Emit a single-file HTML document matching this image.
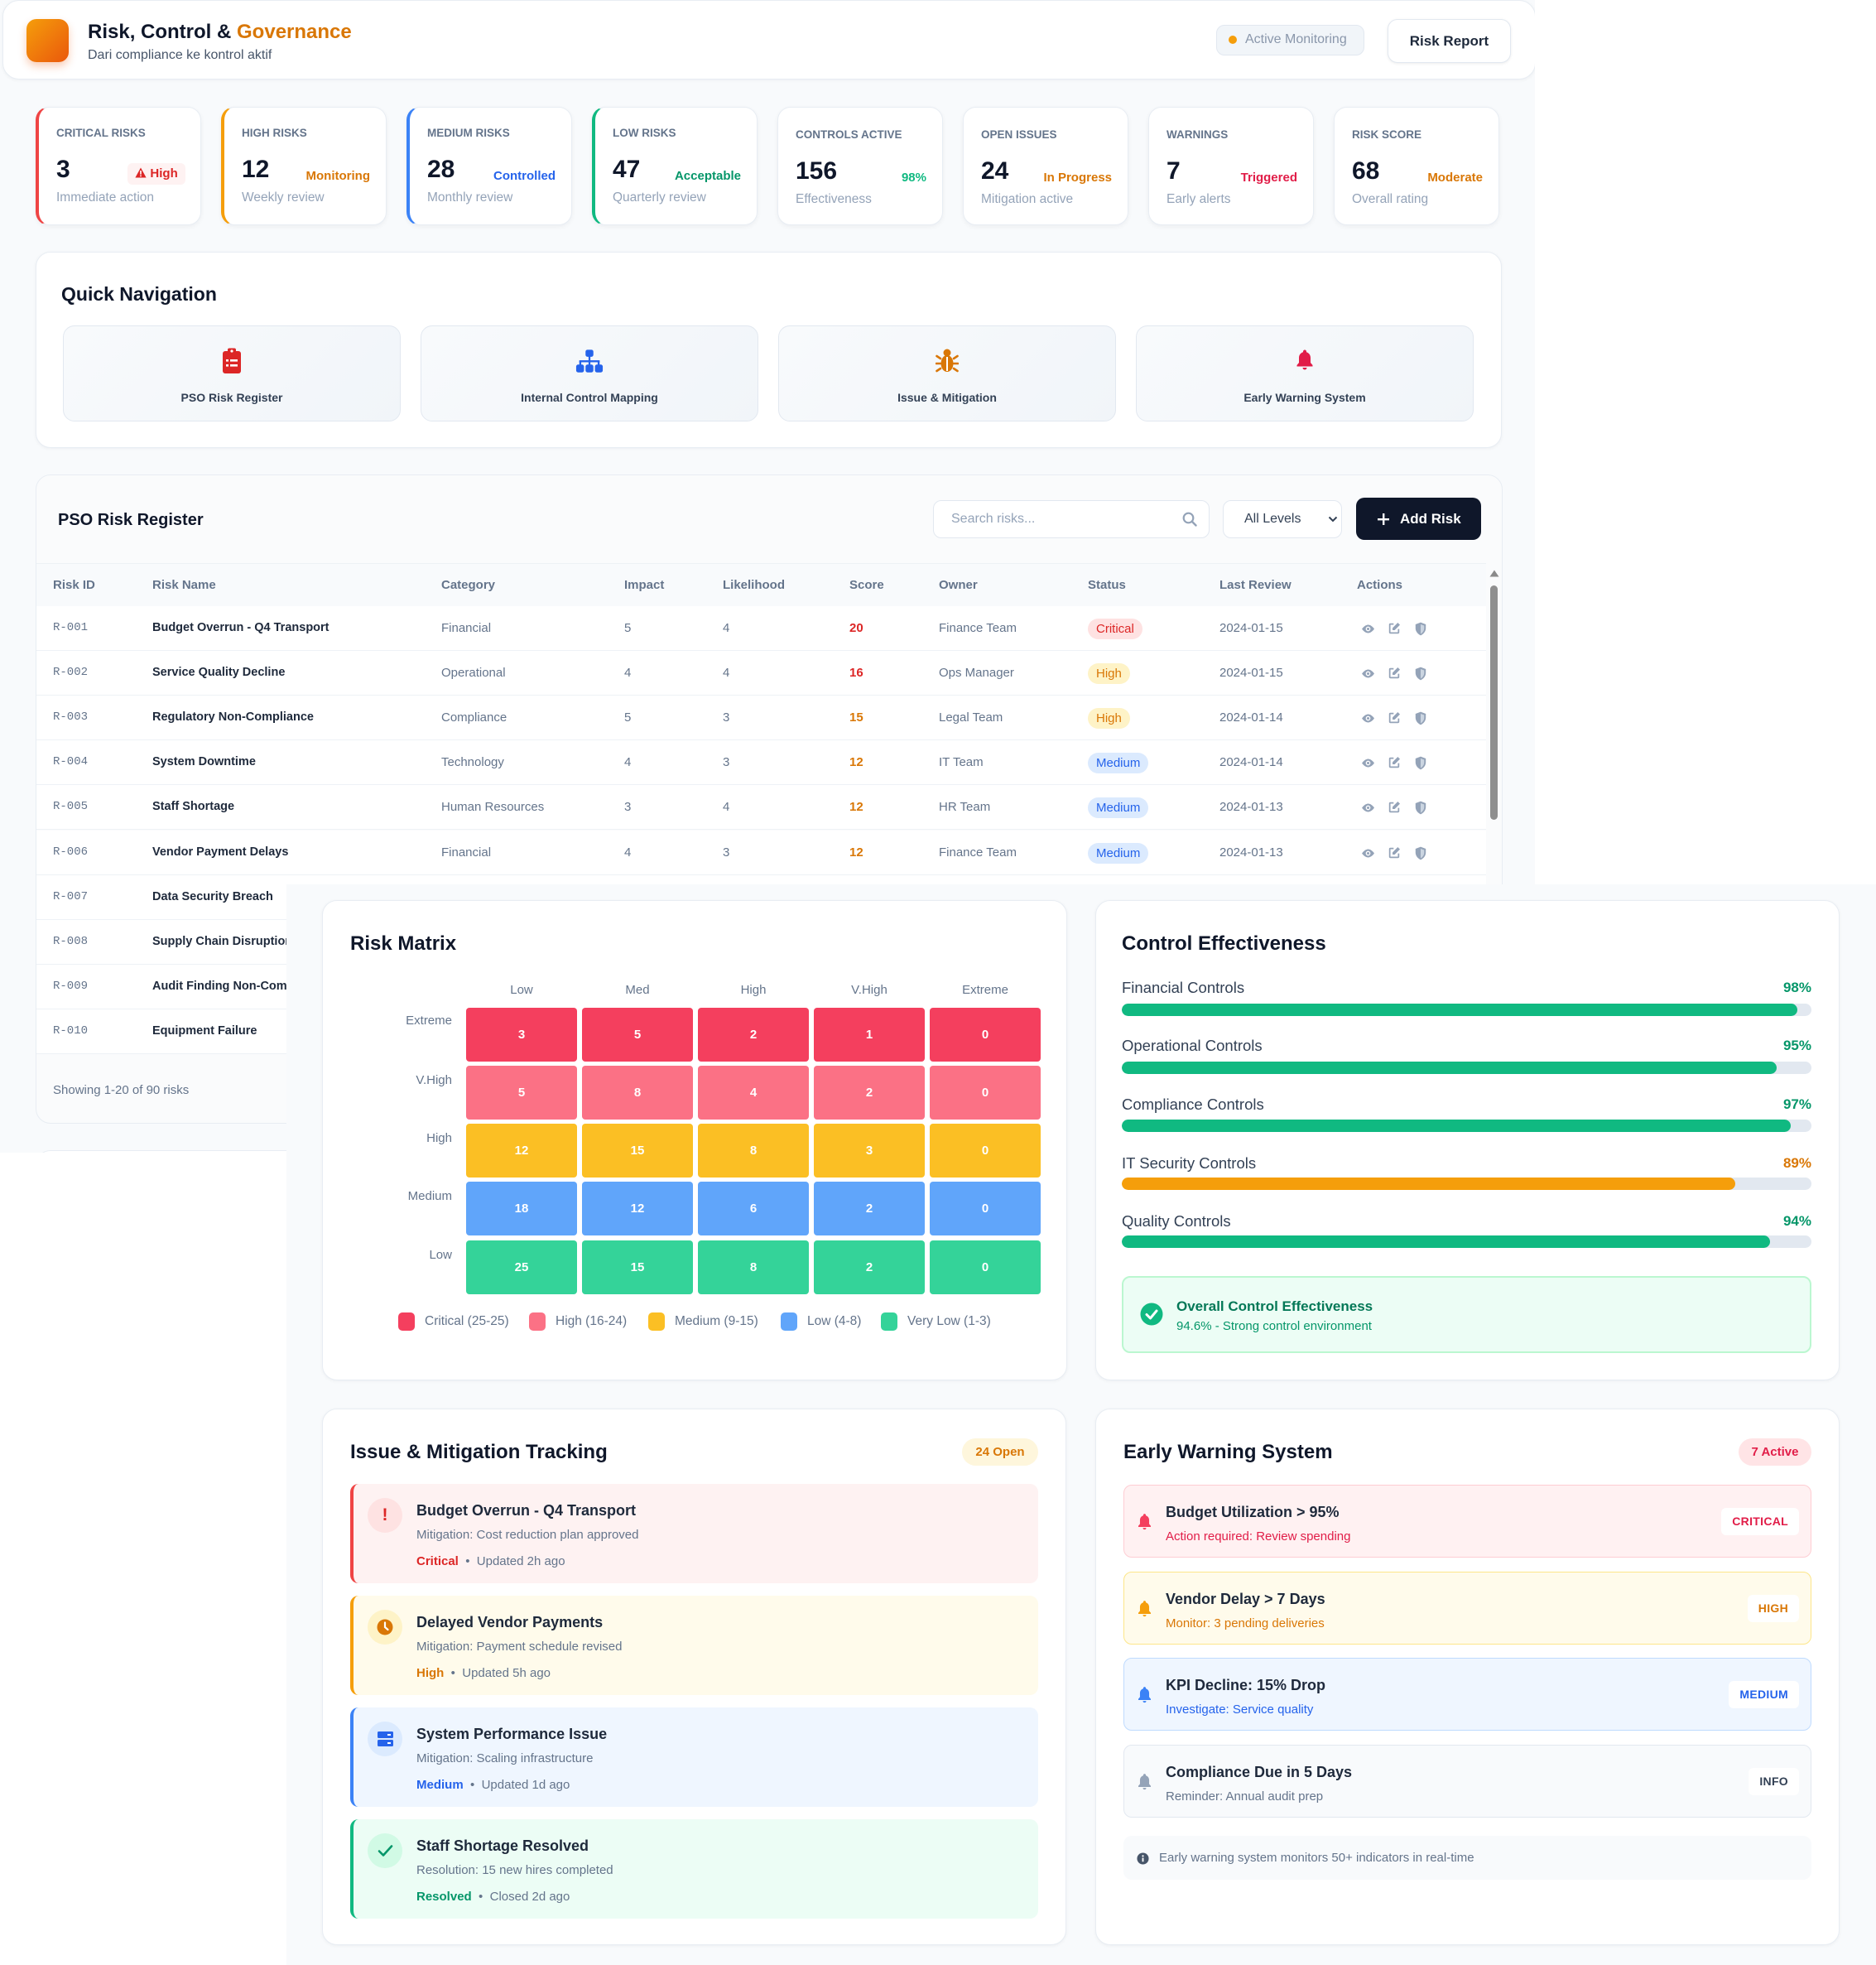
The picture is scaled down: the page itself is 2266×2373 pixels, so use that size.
<!DOCTYPE html>
<html><head><meta charset="utf-8">
<style>
*{box-sizing:border-box;margin:0;padding:0}
html,body{width:2266px;height:2373px;overflow:hidden;background:#fff;font-family:"Liberation Sans",Arial,sans-serif;color:#0f172a}
.a{position:absolute;white-space:nowrap}
#s1{position:absolute;left:0;top:0;width:1854px;height:1392px;background:#f8fafc;overflow:hidden}
#s2{position:absolute;left:346px;top:1068px;width:1920px;height:1305px;background:#f8fafc}
.card{position:absolute;background:#fff;border:1px solid #e8edf3;border-radius:18px;box-shadow:0 1px 4px rgba(15,23,42,.05)}
.stat{position:absolute;top:129px;width:200px;height:143px;background:#fff;border:1px solid #e8edf3;border-radius:16px;box-shadow:0 2px 6px rgba(15,23,42,.05)}
.sl{position:absolute;left:21px;top:22px;font-size:13.5px;font-weight:700;color:#64748b;line-height:18px;white-space:nowrap}
.sn{position:absolute;left:21px;top:57px;font-size:30px;font-weight:700;color:#0f172a;line-height:36px}
.sr{position:absolute;right:19px;top:73px;font-size:15px;font-weight:700;line-height:20px;white-space:nowrap}
.ss{position:absolute;left:21px;top:99px;font-size:15.5px;color:#94a3b8;line-height:20px;white-space:nowrap}
.nav{position:absolute;top:393px;width:408px;height:116px;border:1px solid #e2e8f0;border-radius:14px;background:linear-gradient(135deg,#f8fafc,#f1f5f9)}
.nav svg{position:absolute;left:50%;transform:translateX(-50%)}
.nav .nl{position:absolute;left:0;right:0;top:76px;text-align:center;font-size:14px;font-weight:700;color:#334155;line-height:20px}
.th{position:absolute;top:0;line-height:52px;font-size:15px;font-weight:700;color:#64748b}
.row{position:absolute;left:44px;width:1751px;height:54px;background:#fff;border-bottom:1px solid #eef2f6}
.row .c{position:absolute;top:0;line-height:53px;font-size:15px;color:#64748b;white-space:nowrap}
.row .id{font-family:"Liberation Mono",monospace;font-size:14px}
.row .nm{font-weight:700;color:#1e293b;font-size:14.5px}
.row .sc{font-weight:700}
.bd{position:absolute;left:1270px;top:15px;height:25px;line-height:25px;padding:0 10px;border-radius:13px;font-size:15px}
.ic{position:absolute;top:19px}
.ttl{position:absolute;font-size:24px;font-weight:700;color:#0f172a;line-height:30px;white-space:nowrap}
.cell{position:absolute;width:134px;height:65px;border-radius:4px;color:#fff;font-weight:700;font-size:15px;line-height:65px;text-align:center}
.ch{position:absolute;top:1186px;width:134px;text-align:center;font-size:15px;color:#64748b;line-height:20px}
.rl{position:absolute;right:1720px;font-size:15px;color:#64748b;line-height:20px;text-align:right}
.lg{position:absolute;top:1585px;width:20px;height:22px;border-radius:5px}
.lt{position:absolute;top:1586px;font-size:15.5px;color:#64748b;line-height:20px;white-space:nowrap}
.cl{position:absolute;left:1355px;font-size:18.5px;color:#334155;line-height:24px}
.cp{position:absolute;right:78px;font-size:17px;font-weight:700;line-height:24px}
.bar{position:absolute;left:1355px;width:833px;height:15px;border-radius:8px;background:#e2e8f0;overflow:hidden}
.bar div{height:100%;border-radius:8px}
.it{position:absolute;left:423px;width:831px;height:120px;border-radius:10px;border-left:4px solid}
.it .ci{position:absolute;left:17px;top:17px;width:42px;height:42px;border-radius:50%}
.it .t1{position:absolute;left:76px;top:20px;font-size:18px;font-weight:700;color:#1e293b;line-height:24px;white-space:nowrap}
.it .t2{position:absolute;left:76px;top:52px;font-size:15px;color:#64748b;line-height:20px;white-space:nowrap}
.it .t3{position:absolute;left:76px;top:84px;font-size:15px;color:#64748b;line-height:20px;white-space:nowrap}
.ew{position:absolute;left:1357px;width:831px;height:88px;border-radius:10px;border:1.5px solid}
.ew svg{position:absolute;left:15px;top:32px}
.ew .t1{position:absolute;left:50px;top:20px;font-size:18px;font-weight:700;color:#1e293b;line-height:24px;white-space:nowrap}
.ew .t2{position:absolute;left:50px;top:52px;font-size:15px;line-height:20px;white-space:nowrap}
.ew .b{position:absolute;right:14px;top:27px;height:33px;line-height:33px;padding:0 13px;background:#fff;border-radius:6px;font-size:14px;font-weight:700;letter-spacing:.3px}
</style></head><body>

<div id="s1">
  <!-- header -->
  <div class="card" style="left:3px;top:0;width:1852px;height:96px;border-radius:20px"></div>
  <div class="a" style="left:32px;top:23px;width:51px;height:52px;border-radius:12px;background:linear-gradient(135deg,#f59e0b,#ea580c);box-shadow:0 5px 10px rgba(234,88,12,.3)"></div>
  <div class="a" style="left:106px;top:24px;font-size:24px;font-weight:700;line-height:30px;color:#0f172a">Risk, Control &amp; <span style="color:#d97706">Governance</span></div>
  <div class="a" style="left:106px;top:57px;font-size:16px;line-height:20px;color:#475569">Dari compliance ke kontrol aktif</div>
  <div class="a" style="left:1469px;top:30px;width:179px;height:37px;border-radius:10px;background:#f1f5f9;border:1px solid #e2e8f0"></div>
  <div class="a" style="left:1484px;top:43px;width:10px;height:10px;border-radius:50%;background:#f59e0b"></div>
  <div class="a" style="left:1504px;top:38px;font-size:16px;line-height:20px;color:#8a97ab">Active Monitoring</div>
  <div class="a" style="left:1676px;top:23px;width:149px;height:53px;border-radius:12px;background:#fff;border:1px solid #e2e8f0;box-shadow:0 1px 3px rgba(15,23,42,.08);text-align:center;line-height:51px;font-size:17px;font-weight:700;color:#1e293b">Risk Report</div>

  <!-- stats -->
  <div class="stat" style="left:43px;border-left:4px solid #ef4444">
    <div class="sl">CRITICAL RISKS</div><div class="sn">3</div>
    <div class="a" style="right:18px;top:67px;height:26px;width:70px;border-radius:6px;background:#fef2f2;color:#dc2626;font-size:15px;font-weight:700;line-height:26px;text-align:center"><svg width="14" height="13" viewBox="0 0 14 13" style="vertical-align:-1px"><path d="M7 0.5L13.6 12.5H0.4Z" fill="#dc2626"/><rect x="6.2" y="4" width="1.6" height="4.6" fill="#fff"/><rect x="6.2" y="9.6" width="1.6" height="1.6" fill="#fff"/></svg> High</div>
    <div class="ss">Immediate action</div>
  </div>
  <div class="stat" style="left:267px;border-left:4px solid #f59e0b">
    <div class="sl">HIGH RISKS</div><div class="sn">12</div><div class="sr" style="color:#d97706">Monitoring</div><div class="ss">Weekly review</div>
  </div>
  <div class="stat" style="left:491px;border-left:4px solid #3b82f6">
    <div class="sl">MEDIUM RISKS</div><div class="sn">28</div><div class="sr" style="color:#2563eb">Controlled</div><div class="ss">Monthly review</div>
  </div>
  <div class="stat" style="left:715px;border-left:4px solid #10b981">
    <div class="sl">LOW RISKS</div><div class="sn">47</div><div class="sr" style="color:#059669">Acceptable</div><div class="ss">Quarterly review</div>
  </div>
  <div class="stat" style="left:939px">
    <div class="sl" style="top:24px">CONTROLS ACTIVE</div><div class="sn" style="top:59px">156</div><div class="sr" style="color:#10b981;top:75px">98%</div><div class="ss" style="top:101px">Effectiveness</div>
  </div>
  <div class="stat" style="left:1163px">
    <div class="sl" style="top:24px">OPEN ISSUES</div><div class="sn" style="top:59px">24</div><div class="sr" style="color:#d97706;top:75px">In Progress</div><div class="ss" style="top:101px">Mitigation active</div>
  </div>
  <div class="stat" style="left:1387px">
    <div class="sl" style="top:24px">WARNINGS</div><div class="sn" style="top:59px">7</div><div class="sr" style="color:#e11d48;top:75px">Triggered</div><div class="ss" style="top:101px">Early alerts</div>
  </div>
  <div class="stat" style="left:1611px">
    <div class="sl" style="top:24px">RISK SCORE</div><div class="sn" style="top:59px">68</div><div class="sr" style="color:#d97706;top:75px">Moderate</div><div class="ss" style="top:101px">Overall rating</div>
  </div>

  <!-- quick nav -->
  <div class="card" style="left:43px;top:304px;width:1771px;height:237px"></div>
  <div class="a" style="left:74px;top:340px;font-size:23px;font-weight:700;line-height:30px">Quick Navigation</div>
  <div class="nav" style="left:76px">
    <svg style="top:26px" width="24" height="32" viewBox="0 0 24 32"><rect x="1" y="4" width="22" height="27" rx="3" fill="#dc2626"/><rect x="7" y="0.5" width="10" height="7" rx="2" fill="#dc2626"/><circle cx="12" cy="4" r="1.6" fill="#fff"/><rect x="5" y="14" width="3" height="2.6" fill="#fff"/><rect x="10" y="14" width="9" height="2.6" fill="#fff"/><rect x="5" y="20" width="3" height="2.6" fill="#fff"/><rect x="10" y="20" width="9" height="2.6" fill="#fff"/></svg>
    <div class="nl">PSO Risk Register</div>
  </div>
  <div class="nav" style="left:508px">
    <svg style="top:28px" width="34" height="29" viewBox="0 0 36 30"><rect x="13" y="0" width="10" height="9" rx="2.5" fill="#2563eb"/><rect x="16.8" y="8" width="2.4" height="7" fill="#2563eb"/><rect x="5" y="13.5" width="26" height="2.5" fill="#2563eb"/><rect x="5" y="14" width="2.5" height="6" fill="#2563eb"/><rect x="16.8" y="14" width="2.4" height="6" fill="#2563eb"/><rect x="28.5" y="14" width="2.5" height="6" fill="#2563eb"/><rect x="1" y="19" width="10" height="10" rx="2.5" fill="#2563eb"/><rect x="13" y="19" width="10" height="10" rx="2.5" fill="#2563eb"/><rect x="25" y="19" width="10" height="10" rx="2.5" fill="#2563eb"/></svg>
    <div class="nl">Internal Control Mapping</div>
  </div>
  <div class="nav" style="left:940px">
    <svg style="top:27px" width="28" height="30" viewBox="0 0 28 30"><circle cx="14" cy="5" r="4.5" fill="#d97706"/><ellipse cx="14" cy="18" rx="7.5" ry="10" fill="#d97706"/><rect x="13" y="10" width="2" height="17" fill="#fff"/><g stroke="#d97706" stroke-width="2.6" stroke-linecap="round"><line x1="6" y1="12" x2="1.5" y2="9"/><line x1="22" y1="12" x2="26.5" y2="9"/><line x1="6" y1="18" x2="1" y2="18"/><line x1="22" y1="18" x2="27" y2="18"/><line x1="6" y1="24" x2="1.5" y2="27"/><line x1="22" y1="24" x2="26.5" y2="27"/></g></svg>
    <div class="nl">Issue &amp; Mitigation</div>
  </div>
  <div class="nav" style="left:1372px">
    <svg style="top:26px" width="24" height="30" viewBox="0 0 24 28"><path d="M12 1.5c-1.1 0-2 .9-2 2v.7C6.9 5.1 5 7.8 5 11v6l-2.5 3v1.5h19V20L19 17v-6c0-3.2-1.9-5.9-5-6.8v-.7c0-1.1-.9-2-2-2z" fill="#e11d48"/><path d="M9.5 23h5a2.5 2.5 0 0 1-5 0z" fill="#e11d48"/></svg>
    <div class="nl">Early Warning System</div>
  </div>

  <!-- register -->
  <div class="card" style="left:43px;top:573px;width:1772px;height:784px;background:#fafbfc;box-shadow:none"></div>
  <div class="a" style="left:70px;top:615px;font-size:20px;font-weight:700;line-height:26px">PSO Risk Register</div>
  <div class="a" style="left:1127px;top:604px;width:334px;height:46px;background:#fff;border:1px solid #e2e8f0;border-radius:10px"></div>
  <div class="a" style="left:1149px;top:617px;font-size:16px;line-height:20px;color:#94a3b8">Search risks...</div>
  <svg class="a" style="left:1428px;top:618px" width="18" height="18" viewBox="0 0 18 18"><circle cx="7.5" cy="7.5" r="5.8" fill="none" stroke="#94a3b8" stroke-width="2.2"/><line x1="12" y1="12" x2="16.5" y2="16.5" stroke="#94a3b8" stroke-width="2.4" stroke-linecap="round"/></svg>
  <div class="a" style="left:1477px;top:604px;width:144px;height:46px;background:#fff;border:1px solid #e2e8f0;border-radius:10px"></div>
  <div class="a" style="left:1503px;top:617px;font-size:16px;line-height:20px;color:#334155">All Levels</div>
  <svg class="a" style="left:1604px;top:623px" width="12" height="8" viewBox="0 0 12 8"><polyline points="1.5,1.5 6,6 10.5,1.5" fill="none" stroke="#334155" stroke-width="2"/></svg>
  <div class="a" style="left:1638px;top:601px;width:151px;height:51px;background:#0f172a;border-radius:10px"></div>
  <svg class="a" style="left:1663px;top:619px" width="16" height="16" viewBox="0 0 16 16"><rect x="7" y="1" width="2.4" height="14" fill="#fff"/><rect x="1" y="7" width="14" height="2.4" fill="#fff"/></svg>
  <div class="a" style="left:1691px;top:616px;font-size:17px;font-weight:700;line-height:22px;color:#fff">Add Risk</div>

  <div class="a" style="left:44px;top:680px;width:1751px;height:52px;background:#f8fafc;border-top:1px solid #edf1f5">
    <div class="th" style="left:20px">Risk ID</div><div class="th" style="left:140px">Risk Name</div><div class="th" style="left:489px">Category</div><div class="th" style="left:710px">Impact</div><div class="th" style="left:829px">Likelihood</div><div class="th" style="left:982px">Score</div><div class="th" style="left:1090px">Owner</div><div class="th" style="left:1270px">Status</div><div class="th" style="left:1429px">Last Review</div><div class="th" style="left:1595px">Actions</div>
  </div>

  <div class="row" style="top:732px"><div class="c id" style="left:20px">R-001</div><div class="c nm" style="left:140px">Budget Overrun - Q4 Transport</div><div class="c" style="left:489px">Financial</div><div class="c" style="left:710px">5</div><div class="c" style="left:829px">4</div><div class="c sc" style="left:982px;color:#dc2626">20</div><div class="c" style="left:1090px">Finance Team</div><div class="bd" style="background:#fee2e2;color:#dc2626">Critical</div><div class="c" style="left:1429px">2024-01-15</div>
    <svg class="ic" style="left:1600px" width="17" height="17" viewBox="0 0 24 24"><path d="M12 5C6 5 1.5 12 1.5 12S6 19 12 19s10.5-7 10.5-7S18 5 12 5z" fill="#94a3b8"/><circle cx="12" cy="12" r="4" fill="#fff"/><circle cx="12" cy="12" r="2.2" fill="#94a3b8"/></svg><svg class="ic" style="left:1632px" width="16" height="16" viewBox="0 0 24 24"><path d="M11 4H5a1 1 0 0 0-1 1v14a1 1 0 0 0 1 1h14a1 1 0 0 0 1-1v-6" fill="none" stroke="#94a3b8" stroke-width="2.6"/><path d="M18.5 1.5l4 4-9.5 9.5H9v-4z" fill="#94a3b8"/></svg><svg class="ic" style="left:1664px" width="16" height="17" viewBox="0 0 24 26"><path d="M12 1l9.5 3.5v7c0 6-4 11-9.5 13.5C6.5 22.5 2.5 17.5 2.5 11.5v-7z" fill="#94a3b8"/><path d="M12 4.5v17.5c4-2 6.5-6 6.5-10.5V6.8z" fill="#cbd5e1"/></svg></div>
  <div class="row" style="top:786px"><div class="c id" style="left:20px">R-002</div><div class="c nm" style="left:140px">Service Quality Decline</div><div class="c" style="left:489px">Operational</div><div class="c" style="left:710px">4</div><div class="c" style="left:829px">4</div><div class="c sc" style="left:982px;color:#dc2626">16</div><div class="c" style="left:1090px">Ops Manager</div><div class="bd" style="background:#fef3c7;color:#d97706">High</div><div class="c" style="left:1429px">2024-01-15</div>
    <svg class="ic" style="left:1600px" width="17" height="17" viewBox="0 0 24 24"><path d="M12 5C6 5 1.5 12 1.5 12S6 19 12 19s10.5-7 10.5-7S18 5 12 5z" fill="#94a3b8"/><circle cx="12" cy="12" r="4" fill="#fff"/><circle cx="12" cy="12" r="2.2" fill="#94a3b8"/></svg><svg class="ic" style="left:1632px" width="16" height="16" viewBox="0 0 24 24"><path d="M11 4H5a1 1 0 0 0-1 1v14a1 1 0 0 0 1 1h14a1 1 0 0 0 1-1v-6" fill="none" stroke="#94a3b8" stroke-width="2.6"/><path d="M18.5 1.5l4 4-9.5 9.5H9v-4z" fill="#94a3b8"/></svg><svg class="ic" style="left:1664px" width="16" height="17" viewBox="0 0 24 26"><path d="M12 1l9.5 3.5v7c0 6-4 11-9.5 13.5C6.5 22.5 2.5 17.5 2.5 11.5v-7z" fill="#94a3b8"/><path d="M12 4.5v17.5c4-2 6.5-6 6.5-10.5V6.8z" fill="#cbd5e1"/></svg></div>
  <div class="row" style="top:840px"><div class="c id" style="left:20px">R-003</div><div class="c nm" style="left:140px">Regulatory Non-Compliance</div><div class="c" style="left:489px">Compliance</div><div class="c" style="left:710px">5</div><div class="c" style="left:829px">3</div><div class="c sc" style="left:982px;color:#d97706">15</div><div class="c" style="left:1090px">Legal Team</div><div class="bd" style="background:#fef3c7;color:#d97706">High</div><div class="c" style="left:1429px">2024-01-14</div>
    <svg class="ic" style="left:1600px" width="17" height="17" viewBox="0 0 24 24"><path d="M12 5C6 5 1.5 12 1.5 12S6 19 12 19s10.5-7 10.5-7S18 5 12 5z" fill="#94a3b8"/><circle cx="12" cy="12" r="4" fill="#fff"/><circle cx="12" cy="12" r="2.2" fill="#94a3b8"/></svg><svg class="ic" style="left:1632px" width="16" height="16" viewBox="0 0 24 24"><path d="M11 4H5a1 1 0 0 0-1 1v14a1 1 0 0 0 1 1h14a1 1 0 0 0 1-1v-6" fill="none" stroke="#94a3b8" stroke-width="2.6"/><path d="M18.5 1.5l4 4-9.5 9.5H9v-4z" fill="#94a3b8"/></svg><svg class="ic" style="left:1664px" width="16" height="17" viewBox="0 0 24 26"><path d="M12 1l9.5 3.5v7c0 6-4 11-9.5 13.5C6.5 22.5 2.5 17.5 2.5 11.5v-7z" fill="#94a3b8"/><path d="M12 4.5v17.5c4-2 6.5-6 6.5-10.5V6.8z" fill="#cbd5e1"/></svg></div>
  <div class="row" style="top:894px"><div class="c id" style="left:20px">R-004</div><div class="c nm" style="left:140px">System Downtime</div><div class="c" style="left:489px">Technology</div><div class="c" style="left:710px">4</div><div class="c" style="left:829px">3</div><div class="c sc" style="left:982px;color:#d97706">12</div><div class="c" style="left:1090px">IT Team</div><div class="bd" style="background:#dbeafe;color:#2563eb">Medium</div><div class="c" style="left:1429px">2024-01-14</div>
    <svg class="ic" style="left:1600px" width="17" height="17" viewBox="0 0 24 24"><path d="M12 5C6 5 1.5 12 1.5 12S6 19 12 19s10.5-7 10.5-7S18 5 12 5z" fill="#94a3b8"/><circle cx="12" cy="12" r="4" fill="#fff"/><circle cx="12" cy="12" r="2.2" fill="#94a3b8"/></svg><svg class="ic" style="left:1632px" width="16" height="16" viewBox="0 0 24 24"><path d="M11 4H5a1 1 0 0 0-1 1v14a1 1 0 0 0 1 1h14a1 1 0 0 0 1-1v-6" fill="none" stroke="#94a3b8" stroke-width="2.6"/><path d="M18.5 1.5l4 4-9.5 9.5H9v-4z" fill="#94a3b8"/></svg><svg class="ic" style="left:1664px" width="16" height="17" viewBox="0 0 24 26"><path d="M12 1l9.5 3.5v7c0 6-4 11-9.5 13.5C6.5 22.5 2.5 17.5 2.5 11.5v-7z" fill="#94a3b8"/><path d="M12 4.5v17.5c4-2 6.5-6 6.5-10.5V6.8z" fill="#cbd5e1"/></svg></div>
  <div class="row" style="top:948px"><div class="c id" style="left:20px">R-005</div><div class="c nm" style="left:140px">Staff Shortage</div><div class="c" style="left:489px">Human Resources</div><div class="c" style="left:710px">3</div><div class="c" style="left:829px">4</div><div class="c sc" style="left:982px;color:#d97706">12</div><div class="c" style="left:1090px">HR Team</div><div class="bd" style="background:#dbeafe;color:#2563eb">Medium</div><div class="c" style="left:1429px">2024-01-13</div>
    <svg class="ic" style="left:1600px" width="17" height="17" viewBox="0 0 24 24"><path d="M12 5C6 5 1.5 12 1.5 12S6 19 12 19s10.5-7 10.5-7S18 5 12 5z" fill="#94a3b8"/><circle cx="12" cy="12" r="4" fill="#fff"/><circle cx="12" cy="12" r="2.2" fill="#94a3b8"/></svg><svg class="ic" style="left:1632px" width="16" height="16" viewBox="0 0 24 24"><path d="M11 4H5a1 1 0 0 0-1 1v14a1 1 0 0 0 1 1h14a1 1 0 0 0 1-1v-6" fill="none" stroke="#94a3b8" stroke-width="2.6"/><path d="M18.5 1.5l4 4-9.5 9.5H9v-4z" fill="#94a3b8"/></svg><svg class="ic" style="left:1664px" width="16" height="17" viewBox="0 0 24 26"><path d="M12 1l9.5 3.5v7c0 6-4 11-9.5 13.5C6.5 22.5 2.5 17.5 2.5 11.5v-7z" fill="#94a3b8"/><path d="M12 4.5v17.5c4-2 6.5-6 6.5-10.5V6.8z" fill="#cbd5e1"/></svg></div>
  <div class="row" style="top:1003px"><div class="c id" style="left:20px">R-006</div><div class="c nm" style="left:140px">Vendor Payment Delays</div><div class="c" style="left:489px">Financial</div><div class="c" style="left:710px">4</div><div class="c" style="left:829px">3</div><div class="c sc" style="left:982px;color:#d97706">12</div><div class="c" style="left:1090px">Finance Team</div><div class="bd" style="background:#dbeafe;color:#2563eb">Medium</div><div class="c" style="left:1429px">2024-01-13</div>
    <svg class="ic" style="left:1600px" width="17" height="17" viewBox="0 0 24 24"><path d="M12 5C6 5 1.5 12 1.5 12S6 19 12 19s10.5-7 10.5-7S18 5 12 5z" fill="#94a3b8"/><circle cx="12" cy="12" r="4" fill="#fff"/><circle cx="12" cy="12" r="2.2" fill="#94a3b8"/></svg><svg class="ic" style="left:1632px" width="16" height="16" viewBox="0 0 24 24"><path d="M11 4H5a1 1 0 0 0-1 1v14a1 1 0 0 0 1 1h14a1 1 0 0 0 1-1v-6" fill="none" stroke="#94a3b8" stroke-width="2.6"/><path d="M18.5 1.5l4 4-9.5 9.5H9v-4z" fill="#94a3b8"/></svg><svg class="ic" style="left:1664px" width="16" height="17" viewBox="0 0 24 26"><path d="M12 1l9.5 3.5v7c0 6-4 11-9.5 13.5C6.5 22.5 2.5 17.5 2.5 11.5v-7z" fill="#94a3b8"/><path d="M12 4.5v17.5c4-2 6.5-6 6.5-10.5V6.8z" fill="#cbd5e1"/></svg></div>
  <div class="row" style="top:1057px"><div class="c id" style="left:20px">R-007</div><div class="c nm" style="left:140px">Data Security Breach</div></div>
  <div class="row" style="top:1111px"><div class="c id" style="left:20px">R-008</div><div class="c nm" style="left:140px">Supply Chain Disruption</div></div>
  <div class="row" style="top:1165px"><div class="c id" style="left:20px">R-009</div><div class="c nm" style="left:140px">Audit Finding Non-Compliance</div></div>
  <div class="row" style="top:1219px"><div class="c id" style="left:20px">R-010</div><div class="c nm" style="left:140px">Equipment Failure</div></div>
  <div class="a" style="left:64px;top:1307px;font-size:15px;line-height:20px;color:#64748b">Showing 1-20 of 90 risks</div>

  <!-- scrollbar -->
  <svg class="a" style="left:1799px;top:688px" width="12" height="9" viewBox="0 0 12 9"><path d="M6 0.5L11.5 8.5H0.5Z" fill="#8a8a8a"/></svg>
  <div class="a" style="left:1800px;top:707px;width:9px;height:283px;border-radius:5px;background:#8f8f8f"></div>

  <div class="card" style="left:43px;top:1389px;width:1772px;height:100px;box-shadow:none"></div>
</div>

<div id="s2"></div>

<!-- Risk Matrix -->
<div class="card" style="left:389px;top:1087px;width:900px;height:580px"></div>
<div class="ttl" style="left:423px;top:1125px">Risk Matrix</div>
<div class="ch" style="left:563px">Low</div><div class="ch" style="left:703px">Med</div><div class="ch" style="left:843px">High</div><div class="ch" style="left:983px">V.High</div><div class="ch" style="left:1123px">Extreme</div>
<div class="rl" style="top:1223px">Extreme</div><div class="rl" style="top:1295px">V.High</div><div class="rl" style="top:1365px">High</div><div class="rl" style="top:1435px">Medium</div><div class="rl" style="top:1506px">Low</div>

<div class="cell" style="left:563px;top:1217px;background:#f43f5e">3</div><div class="cell" style="left:703px;top:1217px;background:#f43f5e">5</div><div class="cell" style="left:843px;top:1217px;background:#f43f5e">2</div><div class="cell" style="left:983px;top:1217px;background:#f43f5e">1</div><div class="cell" style="left:1123px;top:1217px;background:#f43f5e">0</div>
<div class="cell" style="left:563px;top:1287px;background:#fb7185">5</div><div class="cell" style="left:703px;top:1287px;background:#fb7185">8</div><div class="cell" style="left:843px;top:1287px;background:#fb7185">4</div><div class="cell" style="left:983px;top:1287px;background:#fb7185">2</div><div class="cell" style="left:1123px;top:1287px;background:#fb7185">0</div>
<div class="cell" style="left:563px;top:1357px;background:#fbbf24">12</div><div class="cell" style="left:703px;top:1357px;background:#fbbf24">15</div><div class="cell" style="left:843px;top:1357px;background:#fbbf24">8</div><div class="cell" style="left:983px;top:1357px;background:#fbbf24">3</div><div class="cell" style="left:1123px;top:1357px;background:#fbbf24">0</div>
<div class="cell" style="left:563px;top:1427px;background:#60a5fa">18</div><div class="cell" style="left:703px;top:1427px;background:#60a5fa">12</div><div class="cell" style="left:843px;top:1427px;background:#60a5fa">6</div><div class="cell" style="left:983px;top:1427px;background:#60a5fa">2</div><div class="cell" style="left:1123px;top:1427px;background:#60a5fa">0</div>
<div class="cell" style="left:563px;top:1498px;background:#34d399">25</div><div class="cell" style="left:703px;top:1498px;background:#34d399">15</div><div class="cell" style="left:843px;top:1498px;background:#34d399">8</div><div class="cell" style="left:983px;top:1498px;background:#34d399">2</div><div class="cell" style="left:1123px;top:1498px;background:#34d399">0</div>

<div class="lg" style="left:481px;background:#f43f5e"></div><div class="lt" style="left:513px">Critical (25-25)</div>
<div class="lg" style="left:639px;background:#fb7185"></div><div class="lt" style="left:671px">High (16-24)</div>
<div class="lg" style="left:783px;background:#fbbf24"></div><div class="lt" style="left:815px">Medium (9-15)</div>
<div class="lg" style="left:943px;background:#60a5fa"></div><div class="lt" style="left:975px">Low (4-8)</div>
<div class="lg" style="left:1064px;background:#34d399"></div><div class="lt" style="left:1096px">Very Low (1-3)</div>

<!-- Control Effectiveness -->
<div class="card" style="left:1323px;top:1087px;width:899px;height:580px"></div>
<div class="ttl" style="left:1355px;top:1125px">Control Effectiveness</div>
<div class="cl" style="top:1181px">Financial Controls</div><div class="cp" style="top:1181px;left:2110px;right:auto;width:78px;text-align:right;color:#059669">98%</div>
<div class="bar" style="top:1212px"><div style="width:98%;background:#10b981"></div></div>
<div class="cl" style="top:1251px">Operational Controls</div><div class="cp" style="top:1251px;left:2110px;right:auto;width:78px;text-align:right;color:#059669">95%</div>
<div class="bar" style="top:1282px"><div style="width:95%;background:#10b981"></div></div>
<div class="cl" style="top:1322px">Compliance Controls</div><div class="cp" style="top:1322px;left:2110px;right:auto;width:78px;text-align:right;color:#059669">97%</div>
<div class="bar" style="top:1352px"><div style="width:97%;background:#10b981"></div></div>
<div class="cl" style="top:1393px">IT Security Controls</div><div class="cp" style="top:1393px;left:2110px;right:auto;width:78px;text-align:right;color:#d97706">89%</div>
<div class="bar" style="top:1422px"><div style="width:89%;background:#f59e0b"></div></div>
<div class="cl" style="top:1463px">Quality Controls</div><div class="cp" style="top:1463px;left:2110px;right:auto;width:78px;text-align:right;color:#059669">94%</div>
<div class="bar" style="top:1492px"><div style="width:94%;background:#10b981"></div></div>
<div class="a" style="left:1355px;top:1541px;width:833px;height:93px;background:#ecfdf5;border:2px solid #bbf7d0;border-radius:10px"></div>
<svg class="a" style="left:1377px;top:1573px" width="28" height="28" viewBox="0 0 28 28"><circle cx="14" cy="14" r="13.5" fill="#10b981"/><polyline points="8,14.5 12.5,19 20,10" fill="none" stroke="#fff" stroke-width="3" stroke-linecap="round" stroke-linejoin="round"/></svg>
<div class="a" style="left:1421px;top:1567px;font-size:17px;font-weight:700;line-height:22px;color:#047857">Overall Control Effectiveness</div>
<div class="a" style="left:1421px;top:1592px;font-size:15px;line-height:20px;color:#059669">94.6% - Strong control environment</div>

<!-- Issue & Mitigation -->
<div class="card" style="left:389px;top:1701px;width:899px;height:648px"></div>
<div class="ttl" style="left:423px;top:1739px">Issue &amp; Mitigation Tracking</div>
<div class="a" style="left:1162px;top:1737px;width:92px;height:33px;border-radius:17px;background:#fef6dc;color:#d97706;font-size:15px;font-weight:700;line-height:33px;text-align:center">24 Open</div>

<div class="it" style="top:1792px;background:#fef2f2;border-color:#ef4444">
  <div class="ci" style="background:#fee2e2;color:#dc2626;font-weight:700;font-size:21px;line-height:42px;text-align:center">!</div>
  <div class="t1">Budget Overrun - Q4 Transport</div>
  <div class="t2">Mitigation: Cost reduction plan approved</div>
  <div class="t3"><span style="color:#dc2626;font-weight:700">Critical</span> &nbsp;•&nbsp; Updated 2h ago</div>
</div>
<div class="it" style="top:1927px;background:#fffbeb;border-color:#f59e0b">
  <div class="ci" style="background:#fef3c7"><svg style="position:absolute;left:11px;top:11px" width="20" height="20" viewBox="0 0 20 20"><circle cx="10" cy="10" r="9.5" fill="#d97706"/><polyline points="10,4.5 10,10 13.5,13" fill="none" stroke="#fff" stroke-width="2.2" stroke-linecap="round"/></svg></div>
  <div class="t1">Delayed Vendor Payments</div>
  <div class="t2">Mitigation: Payment schedule revised</div>
  <div class="t3"><span style="color:#d97706;font-weight:700">High</span> &nbsp;•&nbsp; Updated 5h ago</div>
</div>
<div class="it" style="top:2062px;background:#eff6ff;border-color:#3b82f6">
  <div class="ci" style="background:#dbeafe"><svg style="position:absolute;left:12px;top:12px" width="19" height="18" viewBox="0 0 19 18"><rect x="0" y="0" width="19" height="8" rx="1.5" fill="#2563eb"/><rect x="0" y="10" width="19" height="8" rx="1.5" fill="#2563eb"/><rect x="12" y="3" width="4" height="2" fill="#fff"/><rect x="12" y="13" width="4" height="2" fill="#fff"/></svg></div>
  <div class="t1">System Performance Issue</div>
  <div class="t2">Mitigation: Scaling infrastructure</div>
  <div class="t3"><span style="color:#2563eb;font-weight:700">Medium</span> &nbsp;•&nbsp; Updated 1d ago</div>
</div>
<div class="it" style="top:2197px;background:#ecfdf5;border-color:#10b981">
  <div class="ci" style="background:#d1fae5"><svg style="position:absolute;left:12px;top:13px" width="19" height="16" viewBox="0 0 19 16"><polyline points="2,8.5 7,13.5 17,2.5" fill="none" stroke="#059669" stroke-width="2.6" stroke-linecap="round" stroke-linejoin="round"/></svg></div>
  <div class="t1">Staff Shortage Resolved</div>
  <div class="t2">Resolution: 15 new hires completed</div>
  <div class="t3"><span style="color:#059669;font-weight:700">Resolved</span> &nbsp;•&nbsp; Closed 2d ago</div>
</div>

<!-- Early Warning -->
<div class="card" style="left:1323px;top:1701px;width:899px;height:648px"></div>
<div class="ttl" style="left:1357px;top:1739px">Early Warning System</div>
<div class="a" style="left:2100px;top:1737px;width:88px;height:33px;border-radius:17px;background:#ffe4e6;color:#e11d48;font-size:15px;font-weight:700;line-height:33px;text-align:center">7 Active</div>

<div class="ew" style="top:1793px;background:#fff1f2;border-color:#fecdd3">
  <svg width="19" height="24" viewBox="0 0 24 28"><path d="M12 1.5c-1.1 0-2 .9-2 2v.7C6.9 5.1 5 7.8 5 11v6l-2.5 3v1.5h19V20L19 17v-6c0-3.2-1.9-5.9-5-6.8v-.7c0-1.1-.9-2-2-2z" fill="#f43f5e"/><path d="M9.5 23h5a2.5 2.5 0 0 1-5 0z" fill="#f43f5e"/></svg>
  <div class="t1">Budget Utilization &gt; 95%</div>
  <div class="t2" style="color:#e11d48">Action required: Review spending</div>
  <div class="b" style="color:#e11d48">CRITICAL</div>
</div>
<div class="ew" style="top:1898px;background:#fffbeb;border-color:#fde68a">
  <svg width="19" height="24" viewBox="0 0 24 28"><path d="M12 1.5c-1.1 0-2 .9-2 2v.7C6.9 5.1 5 7.8 5 11v6l-2.5 3v1.5h19V20L19 17v-6c0-3.2-1.9-5.9-5-6.8v-.7c0-1.1-.9-2-2-2z" fill="#f59e0b"/><path d="M9.5 23h5a2.5 2.5 0 0 1-5 0z" fill="#f59e0b"/></svg>
  <div class="t1">Vendor Delay &gt; 7 Days</div>
  <div class="t2" style="color:#d97706">Monitor: 3 pending deliveries</div>
  <div class="b" style="color:#d97706">HIGH</div>
</div>
<div class="ew" style="top:2002px;background:#eff6ff;border-color:#bfdbfe">
  <svg width="19" height="24" viewBox="0 0 24 28"><path d="M12 1.5c-1.1 0-2 .9-2 2v.7C6.9 5.1 5 7.8 5 11v6l-2.5 3v1.5h19V20L19 17v-6c0-3.2-1.9-5.9-5-6.8v-.7c0-1.1-.9-2-2-2z" fill="#3b82f6"/><path d="M9.5 23h5a2.5 2.5 0 0 1-5 0z" fill="#3b82f6"/></svg>
  <div class="t1">KPI Decline: 15% Drop</div>
  <div class="t2" style="color:#2563eb">Investigate: Service quality</div>
  <div class="b" style="color:#2563eb">MEDIUM</div>
</div>
<div class="ew" style="top:2107px;background:#f8fafc;border-color:#e2e8f0">
  <svg width="19" height="24" viewBox="0 0 24 28"><path d="M12 1.5c-1.1 0-2 .9-2 2v.7C6.9 5.1 5 7.8 5 11v6l-2.5 3v1.5h19V20L19 17v-6c0-3.2-1.9-5.9-5-6.8v-.7c0-1.1-.9-2-2-2z" fill="#94a3b8"/><path d="M9.5 23h5a2.5 2.5 0 0 1-5 0z" fill="#94a3b8"/></svg>
  <div class="t1">Compliance Due in 5 Days</div>
  <div class="t2" style="color:#64748b">Reminder: Annual audit prep</div>
  <div class="b" style="color:#334155">INFO</div>
</div>
<div class="a" style="left:1357px;top:2217px;width:831px;height:53px;border-radius:10px;background:#f8fafc"></div>
<svg class="a" style="left:1373px;top:2237px" width="15" height="15" viewBox="0 0 16 16"><circle cx="8" cy="8" r="7.5" fill="#475569"/><rect x="7" y="7" width="2" height="5" fill="#fff"/><circle cx="8" cy="4.6" r="1.2" fill="#fff"/></svg>
<div class="a" style="left:1400px;top:2234px;font-size:15px;line-height:20px;color:#64748b">Early warning system monitors 50+ indicators in real-time</div>

</body></html>
